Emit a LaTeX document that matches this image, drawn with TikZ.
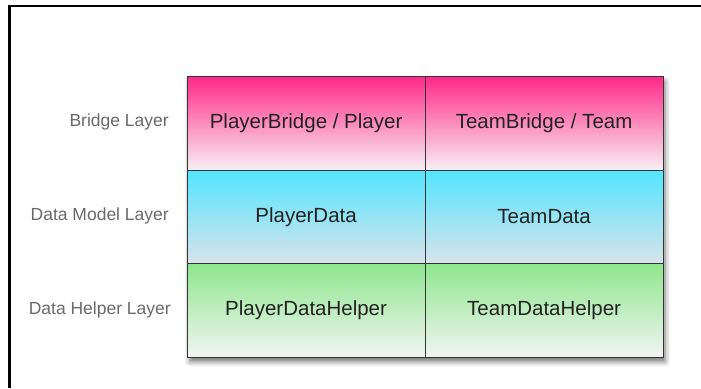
\documentclass[tikz,border=0pt]{standalone}
\usepackage{fontspec}
\setmainfont{Liberation Sans}
\usetikzlibrary{shadows.blur}
\definecolor{pinkT}{HTML}{FF2A88}
\definecolor{pinkB}{HTML}{F8F0F4}
\definecolor{cyanT}{HTML}{52E5FF}
\definecolor{cyanB}{HTML}{D9E3EA}
\definecolor{greenT}{HTML}{8EE68E}
\definecolor{greenB}{HTML}{F2F5F2}
\definecolor{cellText}{HTML}{222222}
\definecolor{labelText}{HTML}{6A6A6A}
\definecolor{gridLine}{HTML}{333333}
\tikzset{
  cell/.style={rectangle, draw=gridLine, line width=1.2pt, inner sep=0pt,
    minimum width=238pt, minimum height=93.5pt, anchor=north west,
    font=\fontsize{20.5}{24}\selectfont, text=cellText},
  pinkcell/.style={cell, top color=pinkT, bottom color=pinkB},
  cyancell/.style={cell, top color=cyanT, bottom color=cyanB},
  greencell/.style={cell, top color=greenT, bottom color=greenB},
  layerlabel/.style={anchor=east, inner sep=0pt,
    font=\fontsize{17.5}{21}\selectfont, text=labelText},
  frameline/.style={line width=2.3pt, black}
}
\begin{document}
\begin{tikzpicture}[x=1pt, y=-1pt]
\useasboundingbox (0,0) rectangle (701,388);
% frame
\coordinate (fTopR) at (701,6.2);
\coordinate (fCorner) at (9.5,6.2);
\coordinate (fBotL) at (9.5,388);
\draw[frameline] (fTopR) -- (fCorner) -- (fBotL);
% table shadow
\node[rectangle, fill=white, inner sep=0pt, minimum width=475.5pt, minimum height=280.5pt, anchor=north west,
  blur shadow={shadow xshift=3pt, shadow yshift=-5pt, shadow blur radius=5pt, shadow opacity=55}] (table) at (186.5,76) {};
% cells
\node[pinkcell] (pb) at (186.5,76) {PlayerBridge / Player};
\node[pinkcell] (tb) at (424.5,76) {TeamBridge / Team};
\node[cyancell] (pd) at (186.5,169.5) {PlayerData};
\node[cyancell] (td) at (424.5,169.5) {TeamData};
\node[greencell] (pdh) at (186.5,263) {PlayerDataHelper};
\node[greencell] (tdh) at (424.5,263) {TeamDataHelper};
% labels
\node[layerlabel] (l1) at (169,122) {Bridge Layer};
\node[layerlabel] (l2) at (169,216) {Data Model Layer};
\node[layerlabel] (l3) at (171,310) {Data Helper Layer};
\end{tikzpicture}
\end{document}
